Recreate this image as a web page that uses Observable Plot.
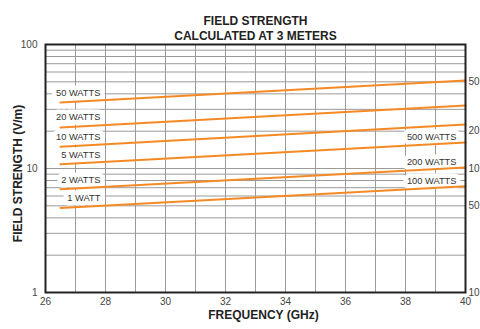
<!DOCTYPE html>
<html><head><meta charset="utf-8">
<script src="https://cdn.jsdelivr.net/npm/d3@7"></script>
<script src="https://cdn.jsdelivr.net/npm/@observablehq/plot@0.6"></script>
<style>
html,body{margin:0;padding:0;background:#fff;}
svg{display:block;}
</style>
</head><body><div id="chart"></div>
<script>
// ---- data ----
const frequency = [26.5, 40];               // GHz, start and end of each curve
const seriesNames = ["50 WATTS", "20 WATTS", "10 WATTS", "5 WATTS", "2 WATTS", "1 WATT"];
const fieldAtStart = [34.0, 21.4, 15.0, 10.8, 6.8, 4.8];   // V/m at 26.5 GHz
const fieldAtEnd   = [51.3, 32.2, 22.6, 16.2, 10.2, 7.2];  // V/m at 40 GHz

const leftLabelText = ["50 WATTS", "20 WATTS", "10 WATTS", "5 WATTS", "2 WATTS", "1 WATT"];
const leftLabelFreq = 27.83;
const leftLabelField = [40.8, 25.9, 18.1, 12.9, 8.15, 5.76];

const rightLabelText = ["500 WATTS", "200 WATTS", "100 WATTS"];
const rightLabelFreq = 39.7;
const rightLabelField = [18.1, 11.2, 7.9];

const xTicks = [26, 28, 30, 32, 34, 36, 38, 40];
const xGrid = [27, 28, 29, 30, 31, 32, 33, 34, 35, 36, 37, 38, 39];
const yTicks = [1, 10, 100];
const yGrid = [2, 3, 4, 5, 6, 7, 8, 9, 10, 20, 30, 40, 50, 60, 70, 80, 90];
const rightTicks = [1, 5, 10, 20, 50];
const rightTickLabels = ["10", "50", "10", "20", "50"];   // as visible at the right edge

const titleLines = ["FIELD STRENGTH", "CALCULATED AT 3 METERS"];
const xLabel = "FREQUENCY (GHz)";
const yLabel = "FIELD STRENGTH (V/m)";

// ---- build table ----
const rows = [];
seriesNames.forEach((name, i) => {
  rows.push({name, freq: frequency[0], field: fieldAtStart[i]});
  rows.push({name, freq: frequency[1], field: fieldAtEnd[i]});
});
const leftLabels = leftLabelText.map((t, i) => ({t, freq: leftLabelFreq, field: leftLabelField[i]}));
const rightLabels = rightLabelText.map((t, i) => ({t, freq: rightLabelFreq, field: rightLabelField[i]}));
const rightAxis = rightTicks.map((v, i) => ({v, t: rightTickLabels[i]}));

const font = "'Liberation Sans', Arial, Helvetica, sans-serif";
const gridStyle = {stroke: "#9a9a9a", strokeOpacity: 1, strokeWidth: 1};

const chart = Plot.plot({
  width: 480,
  height: 329,
  marginLeft: 45,
  marginRight: 15,
  marginTop: 44,
  marginBottom: 37,
  style: {fontFamily: font, fontSize: "10px", color: "#333", background: "#fff"},
  x: {domain: [26, 40]},
  y: {type: "log", domain: [1, 100]},
  marks: [
    Plot.gridX(xGrid, gridStyle),
    Plot.gridY(yGrid, gridStyle),
    Plot.axisX(xTicks, {tickSize: 0, tickPadding: 5, label: null, fontSize: 10, fill: "#444"}),
    Plot.axisY(yTicks, {anchor: "left", tickSize: 0, tickPadding: 8, label: null, fontSize: 10, fill: "#444", tickFormat: d => String(d)}),
    Plot.text(leftLabels, {x: "freq", y: "field", text: "t", textAnchor: "end", fontSize: 9.3, fill: "#333",
      stroke: "white", strokeWidth: 9, paintOrder: "stroke", strokeLinejoin: "round"}),
    Plot.text(rightLabels, {x: "freq", y: "field", text: "t", textAnchor: "end", fontSize: 9.3, fill: "#333",
      stroke: "white", strokeWidth: 9, paintOrder: "stroke", strokeLinejoin: "round"}),
    Plot.line(rows, {x: "freq", y: "field", z: "name", stroke: "#f58a25", strokeWidth: 2}),
    Plot.frame({stroke: "#222", strokeWidth: 2}),
    Plot.text([titleLines[0]], {text: d => d, frameAnchor: "top", dy: -28, fontSize: 12, fontWeight: "bold", fill: "#222"}),
    Plot.text([titleLines[1]], {text: d => d, frameAnchor: "top", dy: -13, fontSize: 12, fontWeight: "bold", fill: "#222"}),
    Plot.text([xLabel], {text: d => d, frameAnchor: "bottom", dy: 26, dx: 8, fontSize: 12, fontWeight: "bold", fill: "#222"}),
    Plot.text([yLabel], {text: d => d, frameAnchor: "left", textAnchor: "middle", dx: -27, dy: 5, rotate: -90, fontSize: 12, fontWeight: "bold", fill: "#222"}),
    Plot.text(rightAxis, {y: "v", text: "t", frameAnchor: "right", textAnchor: "start", dx: 3, fontSize: 10, fill: "#444"})
  ]
});
document.getElementById("chart").appendChild(chart);
</script>
</body></html>
